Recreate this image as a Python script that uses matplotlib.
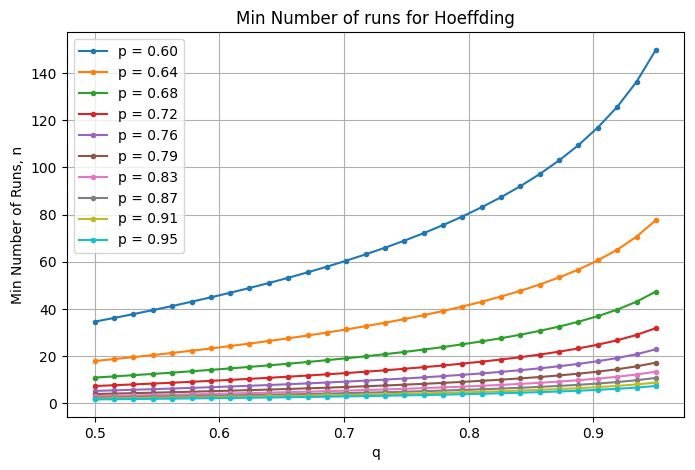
import matplotlib
matplotlib.use("Agg")
import matplotlib.pyplot as plt

# valores de q (eje x)
q_values = [0.5, 0.5155, 0.5310, 0.5466, 0.5621, 0.5776, 0.5931, 0.6086, 0.6241, 0.6397,
            0.6552, 0.6707, 0.6862, 0.7017, 0.7172, 0.7328, 0.7483, 0.7638, 0.7793, 0.7948,
            0.8103, 0.8259, 0.8414, 0.8569, 0.8724, 0.8879, 0.9034, 0.9190, 0.9345, 0.95]

p_labels = ["0.60", "0.64", "0.68", "0.72", "0.76", "0.79", "0.83", "0.87", "0.91", "0.95"]

runs_p060 = [34.66, 36.23, 37.86, 39.54, 41.28, 43.09, 44.96, 46.90, 48.93, 51.03,
             53.24, 55.54, 57.95, 60.49, 63.16, 65.98, 68.97, 72.15, 75.55, 79.20,
             83.13, 87.40, 92.06, 97.21, 102.95, 109.43, 116.88, 125.64, 136.27, 149.79]
runs_p064 = [17.97, 18.78, 19.63, 20.50, 21.40, 22.34, 23.31, 24.32, 25.36, 26.46,
             27.60, 28.79, 30.04, 31.36, 32.74, 34.20, 35.75, 37.40, 39.17, 41.05,
             43.09, 45.31, 47.72, 50.39, 53.37, 56.73, 60.59, 65.13, 70.64, 77.65]
runs_p068 = [10.97, 11.46, 11.98, 12.51, 13.06, 13.63, 14.23, 14.84, 15.48, 16.15,
             16.84, 17.57, 18.34, 19.14, 19.98, 20.88, 21.82, 22.83, 23.90, 25.06,
             26.30, 27.65, 29.13, 30.76, 32.57, 34.62, 36.98, 39.75, 43.12, 47.39]
runs_p072 = [7.38, 7.72, 8.07, 8.42, 8.79, 9.18, 9.58, 9.99, 10.42, 10.87,
             11.34, 11.83, 12.34, 12.88, 13.45, 14.05, 14.69, 15.37, 16.09, 16.87,
             17.71, 18.62, 19.61, 20.71, 21.93, 23.31, 24.90, 26.76, 29.03, 31.91]
runs_p076 = [5.31, 5.55, 5.80, 6.05, 6.32, 6.60, 6.88, 7.18, 7.49, 7.81,
             8.15, 8.50, 8.87, 9.26, 9.67, 10.10, 10.56, 11.05, 11.57, 12.13,
             12.73, 13.38, 14.10, 14.88, 15.76, 16.76, 17.90, 19.24, 20.87, 22.94]
runs_p079 = [4.00, 4.18, 4.37, 4.56, 4.76, 4.97, 5.19, 5.41, 5.64, 5.89,
             6.14, 6.41, 6.68, 6.98, 7.28, 7.61, 7.96, 8.32, 8.71, 9.13,
             9.59, 10.08, 10.62, 11.21, 11.87, 12.62, 13.48, 14.49, 15.72, 17.28]
runs_p083 = [3.12, 3.26, 3.41, 3.56, 3.72, 3.88, 4.05, 4.22, 4.40, 4.59,
             4.79, 5.00, 5.22, 5.44, 5.68, 5.94, 6.21, 6.49, 6.80, 7.13,
             7.48, 7.87, 8.29, 8.75, 9.27, 9.85, 10.52, 11.31, 12.26, 13.48]
runs_p087 = [2.50, 2.62, 2.73, 2.85, 2.98, 3.11, 3.25, 3.39, 3.53, 3.68,
             3.84, 4.01, 4.18, 4.37, 4.56, 4.76, 4.98, 5.21, 5.45, 5.72,
             6.00, 6.31, 6.64, 7.02, 7.43, 7.90, 8.44, 9.07, 9.84, 10.81]
runs_p091 = [2.05, 2.14, 2.24, 2.34, 2.44, 2.55, 2.66, 2.78, 2.89, 3.02,
             3.15, 3.29, 3.43, 3.58, 3.74, 3.90, 4.08, 4.27, 4.47, 4.69,
             4.92, 5.17, 5.45, 5.75, 6.09, 6.47, 6.92, 7.43, 8.06, 8.86]
runs_p095 = [1.71, 1.79, 1.87, 1.95, 2.04, 2.13, 2.22, 2.32, 2.42, 2.52,
             2.63, 2.74, 2.86, 2.99, 3.12, 3.26, 3.41, 3.56, 3.73, 3.91,
             4.11, 4.32, 4.55, 4.80, 5.08, 5.40, 5.77, 6.20, 6.73, 7.40]

all_runs = [runs_p060, runs_p064, runs_p068, runs_p072, runs_p076,
            runs_p079, runs_p083, runs_p087, runs_p091, runs_p095]

fig = plt.figure(figsize=(6.95, 4.7), dpi=100)
ax = fig.add_axes([0.096, 0.113, 0.888, 0.818])

for label, runs in zip(p_labels, all_runs):
    ax.plot(q_values, runs, marker='.', label='p = ' + label)

ax.set_title('Min Number of runs for Hoeffding')
ax.set_xlabel('q')
ax.set_ylabel('Min Number of Runs, n')
ax.grid(True)
ax.legend(loc='upper left')

fig.savefig('out.png', dpi=100)
